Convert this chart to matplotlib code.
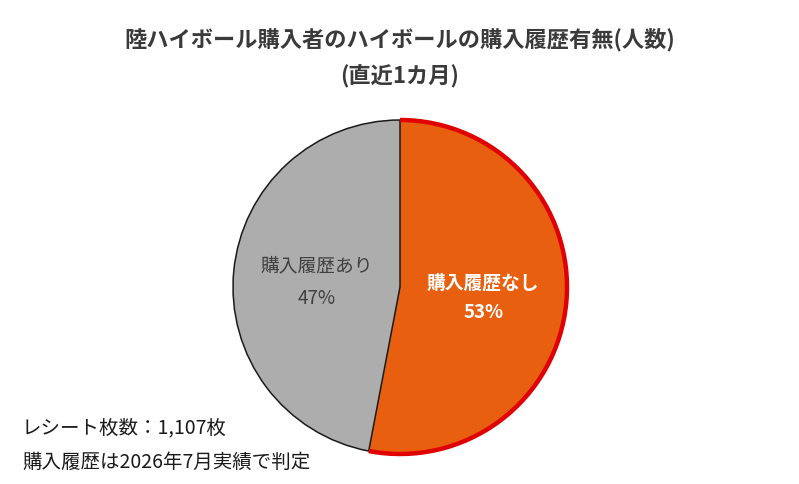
import matplotlib
matplotlib.use("Agg")
import matplotlib.pyplot as plt
from matplotlib.patches import Arc
import numpy as np

plt.rcParams['font.family'] = ['Noto Sans CJK JP', 'DejaVu Sans']

# データ
labels = ["購入履歴なし", "購入履歴あり"]
shares = [53, 47]
colors = ["#E8600F", "#ADADAD"]
label_colors = ["white", "#404040"]
label_weights = ["bold", "normal"]

title = "陸ハイボール購入者のハイボールの購入履歴有無(人数)\n(直近1カ月)"
notes = ["レシート枚数：1,107枚", "購入履歴は2026年7月実績で判定"]

W, H = 799, 484
fig = plt.figure(figsize=(W / 100, H / 100), dpi=100)
ax = fig.add_axes([0, 0, 1, 1])

cx, cy, r = 400, H - 287, 167
wedges, _ = ax.pie(shares, colors=colors, startangle=90, counterclock=False,
                   center=(cx, cy), radius=r, frame=True)
ax.set_xlim(0, W)
ax.set_ylim(0, H)
ax.set_aspect("equal")
ax.axis("off")

# 「なし」は外周だけ赤枠、境界線は黒
hl = wedges[0]
hl.set_edgecolor("none")
hl.set_zorder(2)
ax.add_patch(Arc((cx, cy), 2 * r, 2 * r, theta1=hl.theta1, theta2=hl.theta2,
                 color="#E00000", lw=3.2, zorder=4))
wedges[1].set_edgecolor("#1A1A1A")
wedges[1].set_linewidth(1.1)
wedges[1].set_zorder(3)

for i, w in enumerate(wedges):
    mid = np.deg2rad((w.theta1 + w.theta2) / 2)
    tx = cx + 0.5 * r * np.cos(mid)
    ty = cy + 0.5 * r * np.sin(mid) - 3
    ax.text(tx, ty, f"{labels[i]}\n{shares[i]}%", ha="center", va="center",
            fontsize=13.5, color=label_colors[i], fontweight=label_weights[i],
            linespacing=1.75, zorder=5)

fig.text(0.5, 1 - 58 / H, title, ha="center", va="center", fontsize=16,
         fontweight="bold", color="#3A3A3A", linespacing=1.7)

fig.text(22 / W, 1 - 428 / H, notes[0], ha="left", va="center", fontsize=14, color="#1A1A1A")
fig.text(22 / W, 1 - 462 / H, notes[1], ha="left", va="center", fontsize=14, color="#1A1A1A")

fig.savefig("out.png", dpi=100)
